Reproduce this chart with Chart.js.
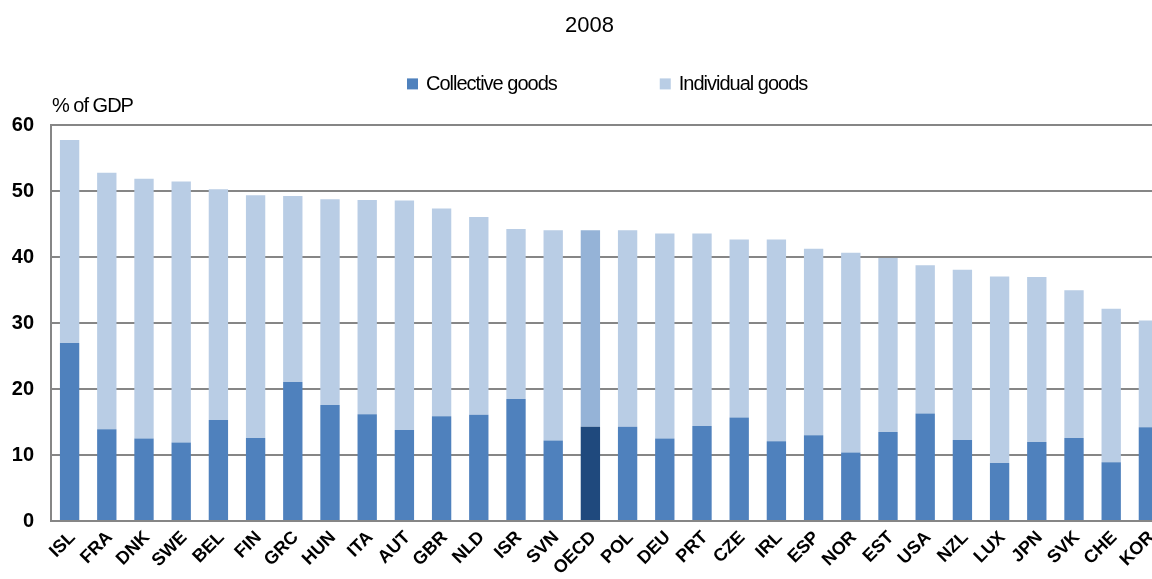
<!DOCTYPE html>
<html>
<head>
<meta charset="utf-8">
<script src="https://cdn.jsdelivr.net/npm/chart.js@4"></script>
<style>
  html, body { margin: 0; padding: 0; background: #fff; overflow: hidden; }
  #wrap { position: absolute; left: 0; top: 0; width: 1180px; height: 579px; }
</style>
</head>
<body>
<div id="wrap"><canvas id="chart"></canvas></div>
<script>
// categories (sorted by total spending)
const countries = ["ISL","FRA","DNK","SWE","BEL","FIN","GRC","HUN","ITA","AUT","GBR","NLD","ISR","SVN","OECD",
  "POL","DEU","PRT","CZE","IRL","ESP","NOR","EST","USA","NZL","LUX","JPN","SVK","CHE","KOR"];

// % of GDP, 2008
const collectiveGoods = [27.0,13.9,12.5,11.9,15.3,12.6,21.1,17.6,16.2,13.8,15.9,16.1,18.5,12.2,14.3,
  14.3,12.5,14.4,15.7,12.1,13.0,10.4,13.5,16.3,12.3,8.8,12.0,12.6,8.9,14.2];
const individualGoods = [30.8,38.9,39.4,39.6,35.0,36.8,28.2,31.2,32.5,34.8,31.5,30.0,25.8,31.9,29.8,
  29.8,31.1,29.2,27.0,30.6,28.3,30.3,26.4,22.5,25.8,28.3,25.0,22.4,23.3,16.2];

const yTicks = [0, 10, 20, 30, 40, 50, 60];

// colours
const COLL = "#4f81bd", COLL_OECD = "#1f497d";
const INDIV = "#b9cde5", INDIV_OECD = "#95b3d7";
const GRID = "#868686";
const FONT = "'Liberation Sans', Arial, sans-serif";

const colorsFor = (base, hi) => countries.map(c => c === "OECD" ? hi : base);

// legend + unit label, drawn by hand so spacing matches
const extras = {
  id: "extras",
  afterDraw(chart) {
    const { ctx, chartArea } = chart;
    ctx.save();
    ctx.fillStyle = "#000";
    ctx.font = "20px " + FONT;
    if ("letterSpacing" in ctx) ctx.letterSpacing = "-1px";
    ctx.textBaseline = "middle";

    // unit label
    ctx.textAlign = "left";
    ctx.fillText("% of GDP", chartArea.left + 1, chartArea.top - 19);

    // legend
    const y = chartArea.top - 42;
    const items = chart.data.datasets.map(ds => ({ text: ds.label, color: ds.legendColor }));
    const box = 11, gapBox = 8, gapItem = 103;
    let total = 0;
    items.forEach((it, i) => {
      it.w = ctx.measureText(it.text).width;
      total += box + gapBox + it.w + (i ? gapItem : 0);
    });
    let x = Math.round((chartArea.left + chartArea.right) / 2 - total / 2) - 2;
    items.forEach(it => {
      ctx.fillStyle = it.color;
      ctx.fillRect(x, y - 5, box, box);
      ctx.fillStyle = "#000";
      ctx.fillText(it.text, x + box + gapBox, y + 1);
      x += box + gapBox + it.w + gapItem;
    });
    ctx.restore();
  }
};

new Chart(document.getElementById("chart"), {
  type: "bar",
  data: {
    labels: countries,
    datasets: [
      {
        label: "Collective goods",
        data: collectiveGoods,
        backgroundColor: colorsFor(COLL, COLL_OECD),
        legendColor: COLL
      },
      {
        label: "Individual goods",
        data: individualGoods,
        backgroundColor: colorsFor(INDIV, INDIV_OECD),
        legendColor: INDIV
      }
    ]
  },
  options: {
    responsive: true,
    maintainAspectRatio: false,
    animation: false,
    layout: { padding: { left: 12, right: 13, bottom: 0 } },
    datasets: { bar: { categoryPercentage: 1, barPercentage: 0.52 } },
    plugins: {
      legend: { display: false },
      tooltip: { enabled: false },
      title: {
        display: true,
        text: "2008",
        color: "#000",
        font: { family: FONT, size: 22, weight: "normal" },
        padding: { top: 13, bottom: 86 }
      }
    },
    scales: {
      x: {
        stacked: true,
        grid: { display: false, drawTicks: false },
        border: { color: GRID, width: 2 },
        ticks: {
          color: "#000",
          font: { family: FONT, size: 18, weight: "bold" },
          maxRotation: 45,
          minRotation: 45,
          autoSkip: false,
          labelOffset: 3,
          padding: 6
        },
        // keep rotated labels from pushing the plot; fix the axis band height
        afterFit: s => { s.paddingLeft = 0; s.paddingRight = 0; s.height = 58; }
      },
      y: {
        stacked: true,
        min: 0,
        max: 60,
        afterBuildTicks: axis => { axis.ticks = yTicks.map(v => ({ value: v })); },
        grid: { color: GRID, lineWidth: 2, drawTicks: false },
        border: { color: GRID, width: 2 },
        ticks: {
          color: "#000",
          font: { family: FONT, size: 20, weight: "bold" },
          padding: 17
        },
        afterFit: s => { s.width = 39; }
      }
    }
  },
  plugins: [extras]
});
</script>
</body>
</html>
